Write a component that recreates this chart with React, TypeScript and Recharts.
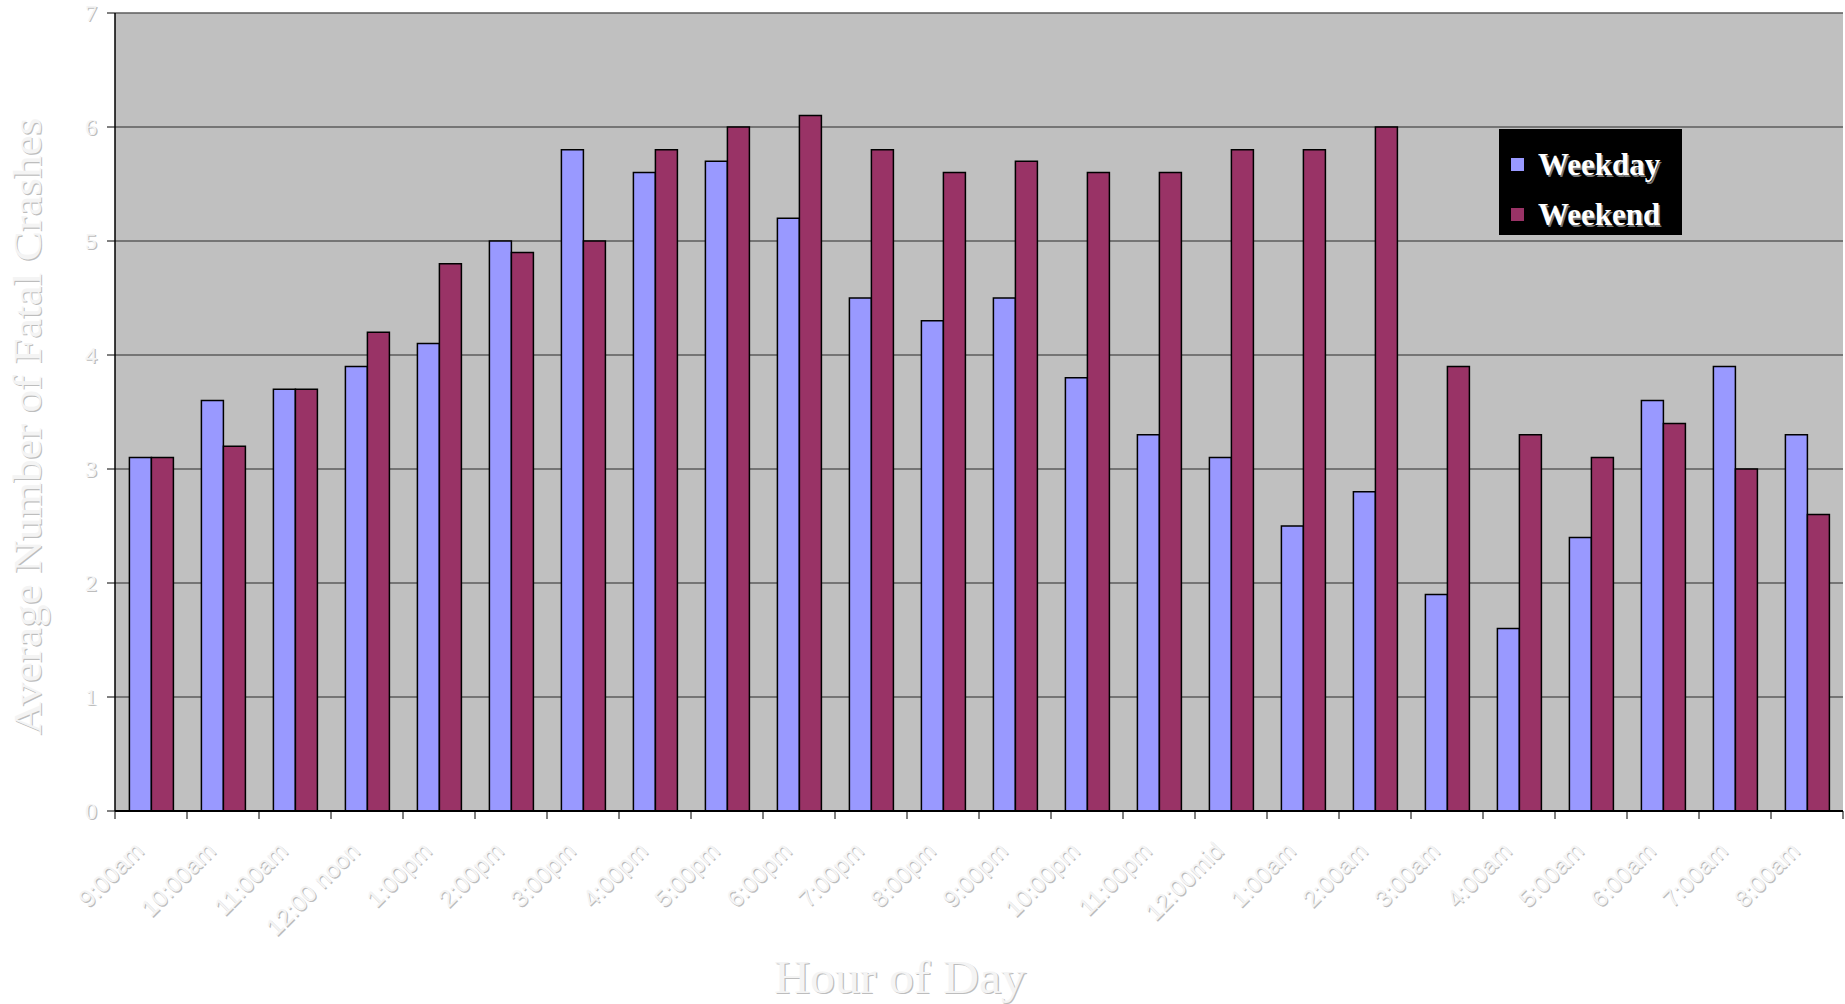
import React from 'react';
import { BarChart, Bar, XAxis, YAxis, CartesianGrid, Legend, Label } from 'recharts';

const hours = [
    '9:00am', '10:00am', '11:00am', '12:00 noon', '1:00pm', '2:00pm', '3:00pm', '4:00pm',
    '5:00pm', '6:00pm', '7:00pm', '8:00pm', '9:00pm', '10:00pm', '11:00pm', '12:00mid',
    '1:00am', '2:00am', '3:00am', '4:00am', '5:00am', '6:00am', '7:00am', '8:00am',
];
const weekday = [3.1, 3.6, 3.7, 3.9, 4.1, 5.0, 5.8, 5.6, 5.7, 5.2, 4.5, 4.3, 4.5, 3.8, 3.3, 3.1, 2.5, 2.8, 1.9, 1.6, 2.4, 3.6, 3.9, 3.3];
const weekend = [3.1, 3.2, 3.7, 4.2, 4.8, 4.9, 5.0, 5.8, 6.0, 6.1, 5.8, 5.6, 5.7, 5.6, 5.6, 5.8, 5.8, 6.0, 3.9, 3.3, 3.1, 3.4, 3.0, 2.6];
const yTicks = [0, 1, 2, 3, 4, 5, 6, 7];

const data = hours.map((hour, i) => ({ hour, Weekday: weekday[i], Weekend: weekend[i] }));

const W = 1845;
const H = 1004;
const LEFT = 115;
const RIGHT = 2;
const BAND = (W - LEFT - RIGHT) / hours.length;

const serif = "'Liberation Serif', 'Times New Roman', serif";
const sans = "'Liberation Sans', Arial, sans-serif";

// light text with a gray drop shadow, like the old Excel "embossed" look
function Emboss({ children, ...props }: any) {
    return (
        <g>
            <g transform="translate(1.2,1.2)">
                <text {...props} fill="#bdbdbd">{children}</text>
            </g>
            <text {...props} fill="#f4f4f4">{children}</text>
        </g>
    );
}

function XTick({ x, y, payload, index }: any) {
    const half = BAND / 2;
    const ax = x - 6;
    const ay = y + 41;
    return (
        <g>
            <line x1={x - half} x2={x - half} y1={y} y2={y + 8} stroke="#000" />
            {index === hours.length - 1 && <line x1={x + half} x2={x + half} y1={y} y2={y + 8} stroke="#000" />}
            <Emboss x={ax} y={ay} textAnchor="end" fontFamily={sans} fontSize={24} transform={`rotate(-45 ${ax} ${ay})`}>
                {payload.value}
            </Emboss>
        </g>
    );
}

function YTick({ x, y, payload }: any) {
    return (
        <Emboss x={x} y={y} dy="0.33em" textAnchor="end" fontFamily={serif} fontSize={24}>
            {payload.value}
        </Emboss>
    );
}

function LegendBox({ payload }: any) {
    return (
        <div style={{ position: 'relative', width: 183, height: 106, background: '#000' }}>
            {(payload || []).map((p: any, i: number) => (
                <div key={p.value} style={{ position: 'absolute', left: 0, top: 21 + i * 50, height: 30, width: 183 }}>
                    <span style={{ position: 'absolute', left: 12, top: 8, width: 13, height: 13, background: p.color }} />
                    <span style={{ position: 'absolute', left: 39, top: 0, fontFamily: serif, fontWeight: 'bold', fontSize: 31, lineHeight: '30px', color: '#fff', textShadow: '1.5px 1.5px 0 #777', whiteSpace: 'nowrap' }}>
                        {p.value}
                    </span>
                </div>
            ))}
        </div>
    );
}

export default function App() {
    return (
        <div style={{ position: 'absolute', left: 0, top: 0, width: W, height: H, background: '#fff' }}>
            <BarChart width={W} height={H} data={data} margin={{ top: 13, right: RIGHT, bottom: 0, left: 0 }} barCategoryGap="20%" barGap={0}>
                <CartesianGrid vertical={false} stroke="#5c5c5c" strokeWidth={1.5} fill="#c0c0c0" fillOpacity={1} />
                <XAxis dataKey="hour" interval={0} height={193} tickSize={0} tickMargin={0} tickLine={false} axisLine={{ stroke: '#000', strokeWidth: 2 }} tick={<XTick />}>
                    <Label content={() => (
                        <Emboss x={900} y={993} textAnchor="middle" fontFamily={serif} fontSize={46} textLength={252} lengthAdjust="spacingAndGlyphs">Hour of Day</Emboss>
                    )} />
                </XAxis>
                <YAxis width={LEFT} domain={[0, 7]} ticks={yTicks} interval={0} tickSize={8} tickMargin={10} tickLine={{ stroke: '#000' }} axisLine={{ stroke: '#000', strokeWidth: 1.5 }} tick={<YTick />}>
                    <Label content={() => (
                        <Emboss x={41} y={426} textAnchor="middle" fontFamily={serif} fontSize={39} textLength={617} lengthAdjust="spacingAndGlyphs" transform="rotate(-90 41 426)">Average Number of Fatal Crashes</Emboss>
                    )} />
                </YAxis>
                <Legend layout="vertical" align="center" verticalAlign="middle" content={<LegendBox />} wrapperStyle={{ left: 1499, top: 129, width: 183, height: 106 }} />
                <Bar dataKey="Weekday" fill="#9999ff" stroke="#000" strokeWidth={1.5} isAnimationActive={false} />
                <Bar dataKey="Weekend" fill="#993366" stroke="#000" strokeWidth={1.5} isAnimationActive={false} />
            </BarChart>
        </div>
    );
}
